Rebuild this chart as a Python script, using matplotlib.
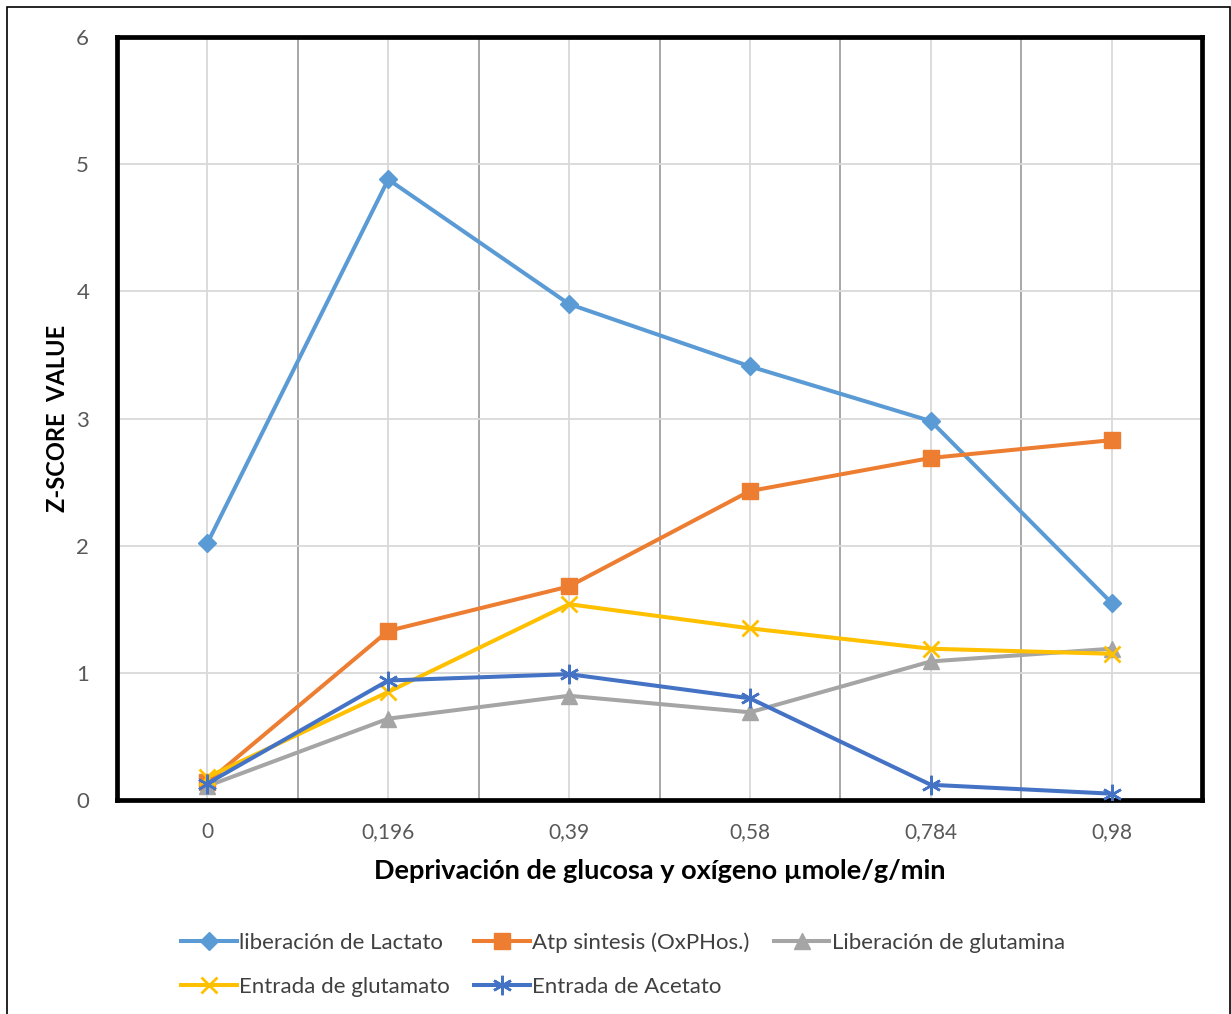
import numpy as np
import matplotlib
matplotlib.use("Agg")
import matplotlib.pyplot as plt
from matplotlib.patches import Rectangle

plt.rcParams['font.family'] = ['Lato', 'DejaVu Sans']

# data
categories = ["0", "0,196", "0,39", "0,58", "0,784", "0,98"]
lactato = [2.02, 4.88, 3.90, 3.41, 2.98, 1.55]
atp = [0.14, 1.33, 1.68, 2.43, 2.69, 2.83]
glutamina = [0.11, 0.64, 0.82, 0.69, 1.09, 1.19]
glutamato = [0.18, 0.85, 1.54, 1.35, 1.19, 1.15]
acetato = [0.13, 0.94, 0.99, 0.80, 0.12, 0.05]

x = np.arange(len(categories))

fig = plt.figure(figsize=(12.31, 10.14), dpi=100)
ax = fig.add_axes([0.095, 0.211, 0.8815, 0.7525])

lw = 2.9
h1, = ax.plot(x, lactato, color='#5B9BD5', lw=lw, marker='D', ms=9,
              label='liberación de Lactato', zorder=3)
h2, = ax.plot(x, atp, color='#ED7D31', lw=lw, marker='s', ms=12,
              label='Atp sintesis (OxPHos.)', zorder=3)
h3, = ax.plot(x, glutamina, color='#A5A5A5', lw=lw, marker='^', ms=12,
              label='Liberación de glutamina', zorder=3)
h4, = ax.plot(x, glutamato, color='#FFC000', lw=lw, marker='x', ms=12, mew=2,
              label='Entrada de glutamato', zorder=3)
h5, = ax.plot(x, acetato, color='#4472C4', lw=lw, marker=(6, 2, 0), ms=14, mew=1.8,
              label='Entrada de Acetato', zorder=3)

ax.set_xlim(-0.5, len(categories) - 0.5)
ax.set_ylim(0, 6)
ax.set_yticks(range(0, 7))
ax.set_xticks(x)
ax.set_xticklabels(categories)
ax.set_xticks(np.arange(0.5, len(categories) - 1, 1), minor=True)

ax.grid(True, which='major', color='#d9d9d9', lw=1.3)
ax.grid(True, which='minor', axis='x', color='#a0a0a0', lw=1.3)
ax.set_axisbelow(True)
ax.tick_params(which='both', length=0)
ax.tick_params(axis='y', pad=20, labelsize=16, labelcolor='#595959')
ax.tick_params(axis='x', pad=16, labelsize=15, labelcolor='#595959')

for s in ax.spines.values():
    s.set_linewidth(3.4)
    s.set_color('black')

ax.set_ylabel('Z-SCORE  VALUE', fontsize=17, fontweight='bold', labelpad=5)
ax.set_xlabel('Deprivación de glucosa y oxígeno µmole/g/min', fontsize=19.5,
              fontweight='bold', labelpad=12)

# row-wise legend order like Excel
fig.legend([h1, h4, h2, h5, h3],
           [h.get_label() for h in [h1, h4, h2, h5, h3]],
           ncol=3, frameon=False, loc='upper left',
           bbox_to_anchor=(0.131, 0.10), fontsize=16,
           handlelength=2.5, handletextpad=0.1, columnspacing=1.1,
           labelspacing=1.05, labelcolor='#404040')

# outer chart border
fig.patches.append(Rectangle((7 / 1231, -0.01), 1223 / 1231, 1.01 - 7 / 1014,
                             transform=fig.transFigure, fill=False,
                             edgecolor='black', lw=1.2))

fig.savefig('out.png', dpi=100)
